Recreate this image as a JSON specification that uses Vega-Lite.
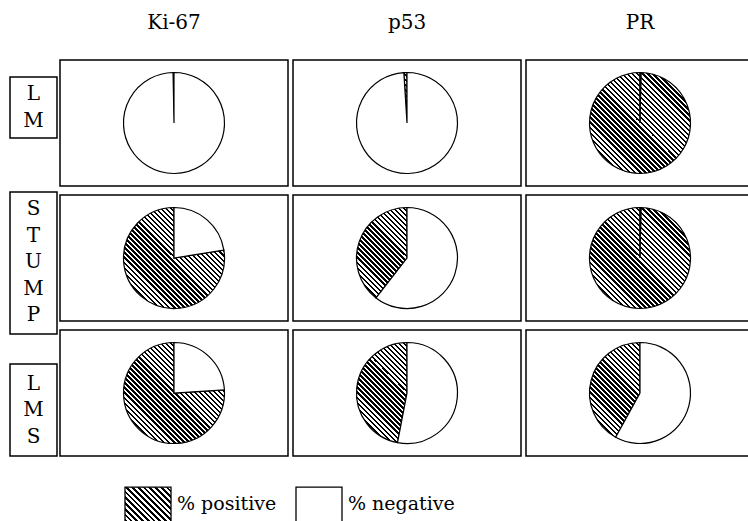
{
  "$schema": "https://vega.github.io/schema/vega-lite/v6.json",
  "background": "white",
  "padding": {"left": 9, "top": 13, "right": 0, "bottom": 0},
  "config": {
    "font": "DejaVu Serif",
    "view": {"stroke": "black", "strokeWidth": 1.5},
    "legend": {"labelFont": "DejaVu Serif"}
  },
  "hconcat": [
    {
      "spacing": 52,
      "vconcat": [
        {
          "spacing": 0,
          "vconcat": [
            {
              "width": 47, "height": 16,
              "view": {"stroke": null},
              "data": {"values": [{}]},
              "mark": {"type": "text", "text": ""},
              "encoding": {}
            },
            {
              "width": 47, "height": 61,
              "view": {"stroke": "black", "strokeWidth": 1.5},
              "data": {"values": [{"tumor": "LM"}]},
              "mark": {"type": "text", "text": ["L", "M"], "fontSize": 20, "lineHeight": 26.5, "baseline": "middle", "align": "center", "dy": -13.25, "color": "black"},
              "encoding": {}
            }
          ]
        },
        {
          "spacing": 28,
          "vconcat": [
            {
              "width": 47, "height": 142,
              "view": {"stroke": "black", "strokeWidth": 1.5},
              "data": {"values": [{"tumor": "STUMP"}]},
              "mark": {"type": "text", "text": ["S", "T", "U", "M", "P"], "fontSize": 20, "lineHeight": 26.5, "baseline": "middle", "align": "center", "dy": -54, "color": "black"},
              "encoding": {}
            },
            {
              "width": 47, "height": 92,
              "view": {"stroke": "black", "strokeWidth": 1.5},
              "data": {"values": [{"tumor": "LMS"}]},
              "mark": {"type": "text", "text": ["L", "M", "S"], "fontSize": 20, "lineHeight": 26.5, "baseline": "middle", "align": "center", "dy": -26.5, "color": "black"},
              "encoding": {}
            }
          ]
        }
      ]
    },
    {
      "data": {"values": [
        {"tumor": "LM", "marker": "Ki-67", "type": "% positive", "pct": 0.3},
        {"tumor": "LM", "marker": "Ki-67", "type": "% negative", "pct": 99.7},
        {"tumor": "LM", "marker": "p53", "type": "% positive", "pct": 1},
        {"tumor": "LM", "marker": "p53", "type": "% negative", "pct": 99},
        {"tumor": "LM", "marker": "PR", "type": "% positive", "pct": 99.7},
        {"tumor": "LM", "marker": "PR", "type": "% negative", "pct": 0.3},
        {"tumor": "STUMP", "marker": "Ki-67", "type": "% positive", "pct": 77.5},
        {"tumor": "STUMP", "marker": "Ki-67", "type": "% negative", "pct": 22.5},
        {"tumor": "STUMP", "marker": "p53", "type": "% positive", "pct": 39.5},
        {"tumor": "STUMP", "marker": "p53", "type": "% negative", "pct": 60.5},
        {"tumor": "STUMP", "marker": "PR", "type": "% positive", "pct": 99.7},
        {"tumor": "STUMP", "marker": "PR", "type": "% negative", "pct": 0.3},
        {"tumor": "LMS", "marker": "Ki-67", "type": "% positive", "pct": 76},
        {"tumor": "LMS", "marker": "Ki-67", "type": "% negative", "pct": 24},
        {"tumor": "LMS", "marker": "p53", "type": "% positive", "pct": 47},
        {"tumor": "LMS", "marker": "p53", "type": "% negative", "pct": 53},
        {"tumor": "LMS", "marker": "PR", "type": "% positive", "pct": 42},
        {"tumor": "LMS", "marker": "PR", "type": "% negative", "pct": 58}
      ]},
      "spacing": {"row": 7, "column": 3},
      "facet": {
        "row": {"field": "tumor", "type": "nominal", "sort": ["LM", "STUMP", "LMS"], "header": null},
        "column": {"field": "marker", "type": "nominal", "sort": ["Ki-67", "p53", "PR"],
          "header": {"title": null, "labelFontSize": 20, "labelFont": "DejaVu Serif", "labelColor": "black", "labelPadding": 26}}
      },
      "spec": {
        "width": 228,
        "height": 126,
        "view": {"stroke": "black", "strokeWidth": 1.5},
        "layer": [
          {
            "transform": [{"aggregate": [{"op": "sum", "field": "pct", "as": "pct"}], "groupby": ["tumor", "marker"]}],
            "mark": {"type": "arc", "radius": 50.5, "strokeWidth": 0, "fill": {"gradient": "linear", "x1": 0, "y1": 1, "x2": 1, "y2": 0, "stops": [
                  {"offset": 0, "color": "#000"}, {"offset": 0.0125, "color": "#000"}, {"offset": 0.0125, "color": "#fff"}, {"offset": 0.025, "color": "#fff"},
                  {"offset": 0.025, "color": "#000"}, {"offset": 0.0375, "color": "#000"}, {"offset": 0.0375, "color": "#fff"}, {"offset": 0.05, "color": "#fff"},
                  {"offset": 0.05, "color": "#000"}, {"offset": 0.0625, "color": "#000"}, {"offset": 0.0625, "color": "#fff"}, {"offset": 0.075, "color": "#fff"},
                  {"offset": 0.075, "color": "#000"}, {"offset": 0.0875, "color": "#000"}, {"offset": 0.0875, "color": "#fff"}, {"offset": 0.1, "color": "#fff"},
                  {"offset": 0.1, "color": "#000"}, {"offset": 0.1125, "color": "#000"}, {"offset": 0.1125, "color": "#fff"}, {"offset": 0.125, "color": "#fff"},
                  {"offset": 0.125, "color": "#000"}, {"offset": 0.1375, "color": "#000"}, {"offset": 0.1375, "color": "#fff"}, {"offset": 0.15, "color": "#fff"},
                  {"offset": 0.15, "color": "#000"}, {"offset": 0.1625, "color": "#000"}, {"offset": 0.1625, "color": "#fff"}, {"offset": 0.175, "color": "#fff"},
                  {"offset": 0.175, "color": "#000"}, {"offset": 0.1875, "color": "#000"}, {"offset": 0.1875, "color": "#fff"}, {"offset": 0.2, "color": "#fff"},
                  {"offset": 0.2, "color": "#000"}, {"offset": 0.2125, "color": "#000"}, {"offset": 0.2125, "color": "#fff"}, {"offset": 0.225, "color": "#fff"},
                  {"offset": 0.225, "color": "#000"}, {"offset": 0.2375, "color": "#000"}, {"offset": 0.2375, "color": "#fff"}, {"offset": 0.25, "color": "#fff"},
                  {"offset": 0.25, "color": "#000"}, {"offset": 0.2625, "color": "#000"}, {"offset": 0.2625, "color": "#fff"}, {"offset": 0.275, "color": "#fff"},
                  {"offset": 0.275, "color": "#000"}, {"offset": 0.2875, "color": "#000"}, {"offset": 0.2875, "color": "#fff"}, {"offset": 0.3, "color": "#fff"},
                  {"offset": 0.3, "color": "#000"}, {"offset": 0.3125, "color": "#000"}, {"offset": 0.3125, "color": "#fff"}, {"offset": 0.325, "color": "#fff"},
                  {"offset": 0.325, "color": "#000"}, {"offset": 0.3375, "color": "#000"}, {"offset": 0.3375, "color": "#fff"}, {"offset": 0.35, "color": "#fff"},
                  {"offset": 0.35, "color": "#000"}, {"offset": 0.3625, "color": "#000"}, {"offset": 0.3625, "color": "#fff"}, {"offset": 0.375, "color": "#fff"},
                  {"offset": 0.375, "color": "#000"}, {"offset": 0.3875, "color": "#000"}, {"offset": 0.3875, "color": "#fff"}, {"offset": 0.4, "color": "#fff"},
                  {"offset": 0.4, "color": "#000"}, {"offset": 0.4125, "color": "#000"}, {"offset": 0.4125, "color": "#fff"}, {"offset": 0.425, "color": "#fff"},
                  {"offset": 0.425, "color": "#000"}, {"offset": 0.4375, "color": "#000"}, {"offset": 0.4375, "color": "#fff"}, {"offset": 0.45, "color": "#fff"},
                  {"offset": 0.45, "color": "#000"}, {"offset": 0.4625, "color": "#000"}, {"offset": 0.4625, "color": "#fff"}, {"offset": 0.475, "color": "#fff"},
                  {"offset": 0.475, "color": "#000"}, {"offset": 0.4875, "color": "#000"}, {"offset": 0.4875, "color": "#fff"}, {"offset": 0.5, "color": "#fff"},
                  {"offset": 0.5, "color": "#000"}, {"offset": 0.5125, "color": "#000"}, {"offset": 0.5125, "color": "#fff"}, {"offset": 0.525, "color": "#fff"},
                  {"offset": 0.525, "color": "#000"}, {"offset": 0.5375, "color": "#000"}, {"offset": 0.5375, "color": "#fff"}, {"offset": 0.55, "color": "#fff"},
                  {"offset": 0.55, "color": "#000"}, {"offset": 0.5625, "color": "#000"}, {"offset": 0.5625, "color": "#fff"}, {"offset": 0.575, "color": "#fff"},
                  {"offset": 0.575, "color": "#000"}, {"offset": 0.5875, "color": "#000"}, {"offset": 0.5875, "color": "#fff"}, {"offset": 0.6, "color": "#fff"},
                  {"offset": 0.6, "color": "#000"}, {"offset": 0.6125, "color": "#000"}, {"offset": 0.6125, "color": "#fff"}, {"offset": 0.625, "color": "#fff"},
                  {"offset": 0.625, "color": "#000"}, {"offset": 0.6375, "color": "#000"}, {"offset": 0.6375, "color": "#fff"}, {"offset": 0.65, "color": "#fff"},
                  {"offset": 0.65, "color": "#000"}, {"offset": 0.6625, "color": "#000"}, {"offset": 0.6625, "color": "#fff"}, {"offset": 0.675, "color": "#fff"},
                  {"offset": 0.675, "color": "#000"}, {"offset": 0.6875, "color": "#000"}, {"offset": 0.6875, "color": "#fff"}, {"offset": 0.7, "color": "#fff"},
                  {"offset": 0.7, "color": "#000"}, {"offset": 0.7125, "color": "#000"}, {"offset": 0.7125, "color": "#fff"}, {"offset": 0.725, "color": "#fff"},
                  {"offset": 0.725, "color": "#000"}, {"offset": 0.7375, "color": "#000"}, {"offset": 0.7375, "color": "#fff"}, {"offset": 0.75, "color": "#fff"},
                  {"offset": 0.75, "color": "#000"}, {"offset": 0.7625, "color": "#000"}, {"offset": 0.7625, "color": "#fff"}, {"offset": 0.775, "color": "#fff"},
                  {"offset": 0.775, "color": "#000"}, {"offset": 0.7875, "color": "#000"}, {"offset": 0.7875, "color": "#fff"}, {"offset": 0.8, "color": "#fff"},
                  {"offset": 0.8, "color": "#000"}, {"offset": 0.8125, "color": "#000"}, {"offset": 0.8125, "color": "#fff"}, {"offset": 0.825, "color": "#fff"},
                  {"offset": 0.825, "color": "#000"}, {"offset": 0.8375, "color": "#000"}, {"offset": 0.8375, "color": "#fff"}, {"offset": 0.85, "color": "#fff"},
                  {"offset": 0.85, "color": "#000"}, {"offset": 0.8625, "color": "#000"}, {"offset": 0.8625, "color": "#fff"}, {"offset": 0.875, "color": "#fff"},
                  {"offset": 0.875, "color": "#000"}, {"offset": 0.8875, "color": "#000"}, {"offset": 0.8875, "color": "#fff"}, {"offset": 0.9, "color": "#fff"},
                  {"offset": 0.9, "color": "#000"}, {"offset": 0.9125, "color": "#000"}, {"offset": 0.9125, "color": "#fff"}, {"offset": 0.925, "color": "#fff"},
                  {"offset": 0.925, "color": "#000"}, {"offset": 0.9375, "color": "#000"}, {"offset": 0.9375, "color": "#fff"}, {"offset": 0.95, "color": "#fff"},
                  {"offset": 0.95, "color": "#000"}, {"offset": 0.9625, "color": "#000"}, {"offset": 0.9625, "color": "#fff"}, {"offset": 0.975, "color": "#fff"},
                  {"offset": 0.975, "color": "#000"}, {"offset": 0.9875, "color": "#000"}, {"offset": 0.9875, "color": "#fff"}, {"offset": 1, "color": "#fff"}
                ]}},
            "encoding": {"theta": {"field": "pct", "type": "quantitative", "stack": true}}
          },
          {
            "mark": {"type": "arc", "radius": 50.5, "stroke": "black", "strokeWidth": 1.2},
            "encoding": {
              "theta": {"field": "pct", "type": "quantitative", "stack": true},
              "order": {"field": "type", "sort": "ascending"},
              "fill": {
                "condition": {"test": "datum.type === '% positive'", "value": "transparent"},
                "field": "type", "type": "nominal",
                "scale": {"domain": ["% positive", "% negative"], "range": [
                  {"expr": "{gradient: 'linear', x1: 0, y1: 1, x2: 1, y2: 0, stops: [{offset: 0, color: '#000'}, {offset: 0.03125, color: '#000'}, {offset: 0.03125, color: '#fff'}, {offset: 0.0625, color: '#fff'}, {offset: 0.0625, color: '#000'}, {offset: 0.09375, color: '#000'}, {offset: 0.09375, color: '#fff'}, {offset: 0.125, color: '#fff'}, {offset: 0.125, color: '#000'}, {offset: 0.15625, color: '#000'}, {offset: 0.15625, color: '#fff'}, {offset: 0.1875, color: '#fff'}, {offset: 0.1875, color: '#000'}, {offset: 0.21875, color: '#000'}, {offset: 0.21875, color: '#fff'}, {offset: 0.25, color: '#fff'}, {offset: 0.25, color: '#000'}, {offset: 0.28125, color: '#000'}, {offset: 0.28125, color: '#fff'}, {offset: 0.3125, color: '#fff'}, {offset: 0.3125, color: '#000'}, {offset: 0.34375, color: '#000'}, {offset: 0.34375, color: '#fff'}, {offset: 0.375, color: '#fff'}, {offset: 0.375, color: '#000'}, {offset: 0.40625, color: '#000'}, {offset: 0.40625, color: '#fff'}, {offset: 0.4375, color: '#fff'}, {offset: 0.4375, color: '#000'}, {offset: 0.46875, color: '#000'}, {offset: 0.46875, color: '#fff'}, {offset: 0.5, color: '#fff'}, {offset: 0.5, color: '#000'}, {offset: 0.53125, color: '#000'}, {offset: 0.53125, color: '#fff'}, {offset: 0.5625, color: '#fff'}, {offset: 0.5625, color: '#000'}, {offset: 0.59375, color: '#000'}, {offset: 0.59375, color: '#fff'}, {offset: 0.625, color: '#fff'}, {offset: 0.625, color: '#000'}, {offset: 0.65625, color: '#000'}, {offset: 0.65625, color: '#fff'}, {offset: 0.6875, color: '#fff'}, {offset: 0.6875, color: '#000'}, {offset: 0.71875, color: '#000'}, {offset: 0.71875, color: '#fff'}, {offset: 0.75, color: '#fff'}, {offset: 0.75, color: '#000'}, {offset: 0.78125, color: '#000'}, {offset: 0.78125, color: '#fff'}, {offset: 0.8125, color: '#fff'}, {offset: 0.8125, color: '#000'}, {offset: 0.84375, color: '#000'}, {offset: 0.84375, color: '#fff'}, {offset: 0.875, color: '#fff'}, {offset: 0.875, color: '#000'}, {offset: 0.90625, color: '#000'}, {offset: 0.90625, color: '#fff'}, {offset: 0.9375, color: '#fff'}, {offset: 0.9375, color: '#000'}, {offset: 0.96875, color: '#000'}, {offset: 0.96875, color: '#fff'}, {offset: 1, color: '#fff'}]}"},
                  "white"
                ]},
                "legend": {
                  "title": null, "orient": "none", "legendX": 114, "legendY": 426,
                  "direction": "horizontal", "symbolType": "square", "symbolSize": 2116,
                  "symbolStrokeColor": "black", "symbolStrokeWidth": 1.3, "symbolOpacity": 1,
                  "labelFont": "DejaVu Serif", "labelFontSize": 19, "labelColor": "black",
                  "labelBaseline": "alphabetic",
                  "labelOffset": 5, "columnPadding": 16, "labelLimit": 300,
                  "labelExpr": "datum.label == '% negative' ? '\u00a0\u00a0% negative' : datum.label"
                }
              }
            }
          }
        ]
      }
    }
  ],
  "spacing": 1
}
